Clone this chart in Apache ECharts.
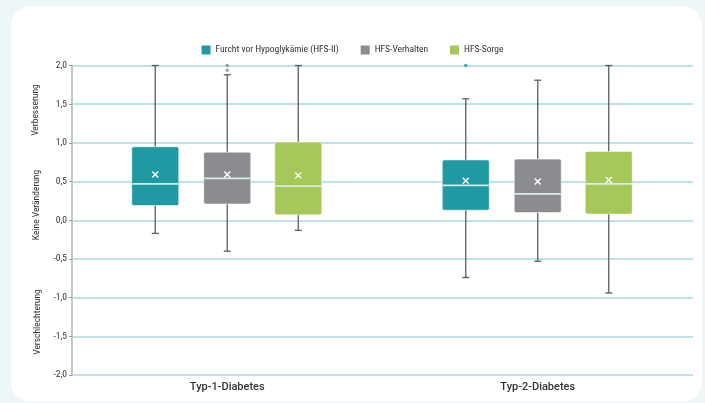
<!DOCTYPE html>
<html>
<head>
<meta charset="utf-8">
<script src="https://cdn.jsdelivr.net/npm/echarts@6/dist/echarts.min.js"></script>
<style>
  html, body { margin:0; padding:0; background:#edf7f8; }
  #wrap { position:relative; width:705px; height:403px; overflow:hidden; background:#edf7f8; }
  #card { position:absolute; left:11px; top:6px; width:691px; height:396px; background:#fff; border-radius:20px; }
  #chart { position:absolute; left:0; top:0; width:705px; height:403px; }
</style>
</head>
<body>
<div id="wrap"><div id="card"></div><div id="chart"></div></div>
<script>
// ---- data ----
const categories = ['Typ-1-Diabetes', 'Typ-2-Diabetes'];
const seriesNames = ['Furcht vor Hypoglykämie (HFS-II)', 'HFS-Verhalten', 'HFS-Sorge'];
// [min, Q1, median, Q3, max] per category
const fearBox      = [[-0.17, 0.19, 0.47, 0.95, 2.00], [-0.74, 0.13, 0.45, 0.78, 1.57]];
const behaviourBox = [[-0.40, 0.21, 0.54, 0.88, 1.88], [-0.53, 0.10, 0.34, 0.79, 1.81]];
const worryBox     = [[-0.13, 0.07, 0.44, 1.01, 2.00], [-0.94, 0.08, 0.47, 0.89, 2.00]];
const fearMean      = [0.59, 0.51];
const behaviourMean = [0.59, 0.50];
const worryMean     = [0.58, 0.52];
// outliers: [categoryIndex, value]
const fearOutliers      = [[1, 2.00]];
const behaviourOutliers = [[0, 2.00], [0, 1.94]];
const worryOutliers     = [];
const yTicks = { min: -2, max: 2, interval: 0.5 };

// ---- styles ----
const colors = ['#1f9aa3', '#8b8c8f', '#a6c75a'];
const offsets = [-72, 0, 71];
const boxW = 47;
const whiskerColor = '#5a5d60';
const fontNarrow = "'Liberation Sans Narrow', 'Roboto Condensed', 'Roboto', sans-serif";

function buildData(boxes, means) {
  return boxes.map((b, i) => [i].concat(b).concat([means[i]]));
}

function makeRender(offset, color) {
  return function (params, api) {
    const c = api.value(0);
    const pMin = api.coord([c, api.value(1)]);
    const pQ1 = api.coord([c, api.value(2)]);
    const pMed = api.coord([c, api.value(3)]);
    const pQ3 = api.coord([c, api.value(4)]);
    const pMax = api.coord([c, api.value(5)]);
    const pMean = api.coord([c, api.value(6)]);
    const cx = pMin[0] + offset;
    const hw = boxW / 2;
    const cap = 3.5;
    const ls = { stroke: whiskerColor, lineWidth: 1.3 };
    const m = 3;
    return {
      type: 'group',
      children: [
        { type: 'line', shape: { x1: cx, y1: pMax[1], x2: cx, y2: pMin[1] }, style: ls },
        { type: 'line', shape: { x1: cx - cap, y1: pMax[1], x2: cx + cap, y2: pMax[1] }, style: ls },
        { type: 'line', shape: { x1: cx - cap, y1: pMin[1], x2: cx + cap, y2: pMin[1] }, style: ls },
        { type: 'rect', shape: { x: cx - hw, y: pQ3[1], width: boxW, height: pQ1[1] - pQ3[1], r: 2 },
          style: { fill: color, stroke: 'rgba(255,255,255,0.55)', lineWidth: 1 } },
        { type: 'line', shape: { x1: cx - hw + 0.5, y1: pMed[1], x2: cx + hw - 0.5, y2: pMed[1] },
          style: { stroke: '#d8ecec', lineWidth: 1.8 } },
        { type: 'line', shape: { x1: cx - m, y1: pMean[1] - m, x2: cx + m, y2: pMean[1] + m },
          style: { stroke: '#ffffff', lineWidth: 1.4 } },
        { type: 'line', shape: { x1: cx - m, y1: pMean[1] + m, x2: cx + m, y2: pMean[1] - m },
          style: { stroke: '#ffffff', lineWidth: 1.4 } }
      ]
    };
  };
}

const boxSets = [fearBox, behaviourBox, worryBox];
const meanSets = [fearMean, behaviourMean, worryMean];
const outlierSets = [fearOutliers, behaviourOutliers, worryOutliers];

const series = [];
seriesNames.forEach((name, k) => {
  series.push({
    name: name,
    type: 'custom',
    itemStyle: { color: colors[k] },
    encode: { x: 0, y: [1, 2, 3, 4, 5] },
    renderItem: makeRender(offsets[k], colors[k]),
    data: buildData(boxSets[k], meanSets[k]),
    z: 3
  });
  series.push({
    name: name,
    type: 'scatter',
    itemStyle: { color: colors[k] },
    symbol: 'circle',
    symbolSize: 3.5,
    symbolOffset: [offsets[k], 0],
    data: outlierSets[k],
    z: 4
  });
});

const chart = echarts.init(document.getElementById('chart'), null, { renderer: 'canvas' });
chart.setOption({
  backgroundColor: 'transparent',
  animation: false,
  legend: {
    data: seriesNames.map(n => ({ name: n, icon: 'rect' })),
    top: 40,
    left: 'center',
    itemWidth: 9,
    itemHeight: 9,
    itemGap: 22,
    textStyle: { fontFamily: fontNarrow, fontSize: 9.5, color: '#333' }
  },
  grid: { left: 72, right: 12, top: 65.5, bottom: 28 },
  xAxis: {
    type: 'category',
    data: categories,
    axisLine: { show: false },
    axisTick: { show: false },
    splitLine: { show: false },
    axisLabel: { color: '#333', fontFamily: 'Roboto, sans-serif', fontSize: 11, fontWeight: 500, margin: 7 }
  },
  yAxis: {
    type: 'value',
    min: yTicks.min,
    max: yTicks.max,
    interval: yTicks.interval,
    axisLine: { show: true, lineStyle: { color: '#c4c6c8', width: 2 } },
    axisTick: { show: true, length: 3, lineStyle: { color: '#999' } },
    axisLabel: {
      color: '#333', fontFamily: fontNarrow, fontSize: 9.5, margin: 5,
      formatter: v => v.toFixed(1).replace('.', ',')
    },
    splitLine: { show: true, lineStyle: { color: '#a3dbdf', width: 1.5 } }
  },
  graphic: [
    { type: 'text', x: 36, y: 110, rotation: Math.PI / 2, style: { text: 'Verbesserung', fill: '#333', font: '9.5px ' + fontNarrow, align: 'center', verticalAlign: 'middle' } },
    { type: 'text', x: 37, y: 205, rotation: Math.PI / 2, style: { text: 'Keine Veränderung', fill: '#333', font: '9.5px ' + fontNarrow, align: 'center', verticalAlign: 'middle' } },
    { type: 'text', x: 38, y: 322, rotation: Math.PI / 2, style: { text: 'Verschlechterung', fill: '#333', font: '9.5px ' + fontNarrow, align: 'center', verticalAlign: 'middle' } }
  ],
  series: series
});
</script>
</body>
</html>
